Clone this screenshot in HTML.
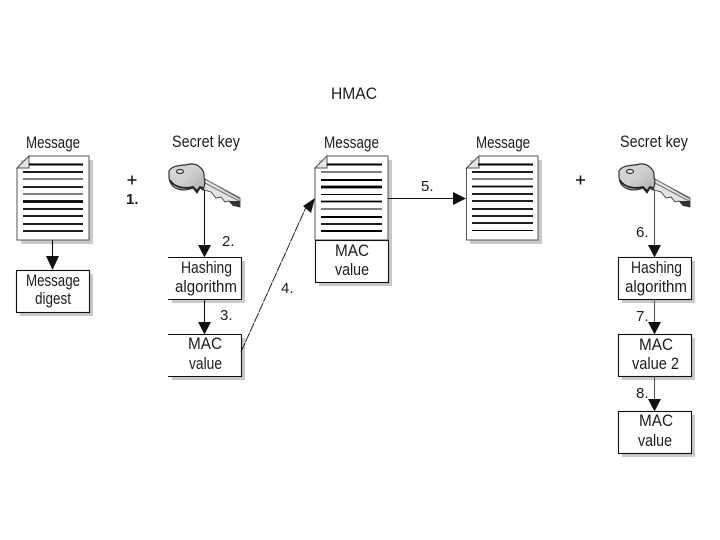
<!DOCTYPE html>
<html><head><meta charset="utf-8"><style>
html,body{margin:0;padding:0;background:#fff}
svg{display:block}
text{font-family:"Liberation Sans",sans-serif;font-size:16.5px;fill:#1c1c1c}
#all{filter:blur(.3px)}
</style></head><body>
<svg width="720" height="540" viewBox="0 0 720 540" xmlns="http://www.w3.org/2000/svg">
<defs>
<linearGradient id="g" x1="0" y1="0" x2="1" y2="1"><stop offset="0" stop-color="#d8d8d8"/><stop offset=".45" stop-color="#d0d0d0"/><stop offset="1" stop-color="#aaa"/></linearGradient>
<g id="key">
<path d="M203 178L240 198V207L233 205.500L229 201L225 202L221 197L216 198L211 192L204 190Z" fill="#e4e4e4" stroke="#333" stroke-width=".8"/>
<path d="M205 183L239 201M206 179.500L239 198.500" stroke="#777" stroke-width="1" fill="none"/>
<path d="M229 201L233 205.500L240 207V201Z" fill="#333"/>
<path d="M169 171C173 164 184 166 190 164C197 163 205 169 204 177C206 183 204 187 203 190L200 188L197 193L193 188C183 192 170 190 169 177Z" fill="url(#g)" stroke="#333" stroke-width="1.200"/>
<path d="M170 180C174 188 186 189 193 187L197 191L200 187L203 188" fill="none" stroke="#222" stroke-width="1.800"/>
<ellipse cx="180" cy="171.500" rx="3.500" ry="2" fill="#eee" stroke="#333" stroke-width="1.200"/>
</g>
</defs>
<g id="all">
<!-- shadows -->
<g fill="#c9c9c9">
<rect x="21" y="160" width="72" height="84"/>
<rect x="20" y="274" width="73" height="42"/>
<rect x="172" y="261" width="73" height="42"/>
<rect x="172" y="338" width="73" height="42"/>
<rect x="319" y="160" width="73" height="126"/>
<rect x="470" y="160" width="72" height="84"/>
<rect x="622" y="261" width="73" height="42"/>
<rect x="622" y="338" width="73" height="42"/>
<rect x="622" y="415" width="73" height="42"/>
</g>

<!-- documents -->
<g fill="#fff" stroke="#555" stroke-width="1">
<path d="M29 156H89V240H17V168Z"/>
<path d="M327 156H388V240H315V168Z"/>
<path d="M479 156H538V240H466.500V168Z"/>
</g>
<g fill="#e6e6e6" stroke="#555" stroke-width="1">
<path d="M29 156V168H17Z"/>
<path d="M327 156V168H315Z"/>
<path d="M479 156V168H466.500Z"/>
</g>
<g stroke="#000" fill="none">
<path d="M29 164.500H83" stroke-width="2"/>
<path d="M23 172H83" stroke-width="1.800"/>
<path d="M23 179H83" stroke-width=".9"/>
<path d="M23 187H83" stroke-width="1.800"/>
<path d="M23 194H83" stroke-width=".9"/>
<path d="M23 201.500H83" stroke-width="2.800"/>
<path d="M23 209H83" stroke-width="1.800"/>
<path d="M23 216H83" stroke-width="1.800"/>
<path d="M23 224H83" stroke-width="1.800"/>
<path d="M23 231H83" stroke-width="1.800"/>

<path d="M327 164.500H382" stroke-width="2"/>
<path d="M321 172H382" stroke-width=".9"/>
<path d="M321 180H382" stroke-width="2"/>
<path d="M321 187H382" stroke-width="2.800"/>
<path d="M321 194.500H382" stroke-width=".9"/>
<path d="M321 201.500H382" stroke-width="1.800"/>
<path d="M321 209H382" stroke-width=".9"/>
<path d="M321 217H382" stroke-width="2"/>
<path d="M321 224H382" stroke-width="1.800"/>
<path d="M321 231H382" stroke-width="2"/>

<path d="M478 164.500H533" stroke-width="2"/>
<path d="M472 172H533" stroke-width="1.800"/>
<path d="M472 179H533" stroke-width=".9"/>
<path d="M472 186.500H533" stroke-width="1.800"/>
<path d="M472 194H533" stroke-width="1.800"/>
<path d="M472 201H533" stroke-width="1.800"/>
<path d="M472 209H533" stroke-width="1.800"/>
<path d="M472 216H533" stroke-width="1.800"/>
<path d="M472 223H533" stroke-width="1.800"/>
<path d="M472 230.500H533" stroke-width=".9"/>
</g>

<!-- boxes -->
<g fill="#fff" stroke="#111" stroke-width="1.100">
<rect x="16.500" y="270.500" width="73" height="42"/>
<rect x="315.500" y="240.500" width="73" height="42"/>
<rect x="618.500" y="257.500" width="73" height="42"/>
<rect x="618.500" y="334.500" width="73" height="42"/>
<rect x="618.500" y="411.500" width="73" height="42"/>
</g>
<path d="M168 257.500H241.500V299.500H168" fill="#fff" stroke="#111" stroke-width="1.100"/>
<path d="M168 334.500H241.500V376.500H168" fill="#fff" stroke="#111" stroke-width="1.100"/>

<!-- keys -->
<use href="#key"/>
<use href="#key" x="450"/>

<!-- connectors -->
<g stroke="#111" stroke-width="1.100" fill="none">
<path d="M52.500 240V258"/>
<path d="M204.500 190V248"/>
<path d="M204.500 299V324"/>
<path d="M654.500 190V248" stroke="#555"/>
<path d="M654.500 299V324" stroke="#555"/>
<path d="M654.500 376V401" stroke="#555"/>
<path d="M388 198.500H455"/>
<path d="M241 352L307 205" stroke-width=".9" stroke-dasharray="10 1"/>
</g>
<g fill="#111">
<path d="M46 256H59L52.500 270Z"/>
<path d="M198 245H211L204.500 257.500Z"/>
<path d="M198 322H211L204.500 334.500Z"/>
<path d="M648 245H661L654.500 257.500Z"/>
<path d="M648 322H661L654.500 334.500Z"/>
<path d="M648 399H661L654.500 411.500Z"/>
<path d="M453 192V205L466 198.500Z"/>
<path d="M315 198L303 206L311 213Z"/>
</g>

<!-- labels -->
<g>
<text x="331" y="99" textLength="46" lengthAdjust="spacingAndGlyphs">HMAC</text>
<text x="26" y="148" textLength="54" lengthAdjust="spacingAndGlyphs">Message</text>
<text x="172" y="147" textLength="68" lengthAdjust="spacingAndGlyphs">Secret key</text>
<text x="324" y="148" textLength="55" lengthAdjust="spacingAndGlyphs">Message</text>
<text x="476" y="148" textLength="54" lengthAdjust="spacingAndGlyphs">Message</text>
<text x="620" y="147" textLength="68" lengthAdjust="spacingAndGlyphs">Secret key</text>

<path d="M127.500 180H136.500M132 175.500V184.500M576 180H585M580.500 175.500V184.500" stroke="#111" stroke-width="1.500" fill="none"/>
<text x="126" y="204" style="font-weight:bold;font-size:15px">1.</text>

<text x="222" y="246" style="font-size:15px">2.</text>
<text x="220" y="320" style="font-size:15px">3.</text>
<text x="281" y="293" style="font-size:15px">4.</text>
<text x="421" y="191" style="font-size:15px">5.</text>
<text x="636" y="237" style="font-size:15px">6.</text>
<text x="636" y="321" style="font-size:15px">7.</text>
<text x="636" y="398" style="font-size:15px">8.</text>

<text x="26" y="286" textLength="54" lengthAdjust="spacingAndGlyphs">Message</text>
<text x="35" y="304" textLength="36" lengthAdjust="spacingAndGlyphs">digest</text>

<text x="181" y="273" textLength="51" lengthAdjust="spacingAndGlyphs">Hashing</text>
<text x="175" y="292" textLength="62" lengthAdjust="spacingAndGlyphs">algorithm</text>
<text x="188" y="349" textLength="34" lengthAdjust="spacingAndGlyphs">MAC</text>
<text x="189" y="369" textLength="33" lengthAdjust="spacingAndGlyphs">value</text>

<text x="335" y="256" textLength="34" lengthAdjust="spacingAndGlyphs">MAC</text>
<text x="335" y="275" textLength="34" lengthAdjust="spacingAndGlyphs">value</text>

<text x="631" y="273" textLength="51" lengthAdjust="spacingAndGlyphs">Hashing</text>
<text x="625" y="292" textLength="62" lengthAdjust="spacingAndGlyphs">algorithm</text>
<text x="639" y="350" textLength="34" lengthAdjust="spacingAndGlyphs">MAC</text>
<text x="632" y="369" textLength="47" lengthAdjust="spacingAndGlyphs">value 2</text>
<text x="639" y="426" textLength="34" lengthAdjust="spacingAndGlyphs">MAC</text>
<text x="638" y="446" textLength="34" lengthAdjust="spacingAndGlyphs">value</text>
</g>
</g>
</svg>
</body></html>
